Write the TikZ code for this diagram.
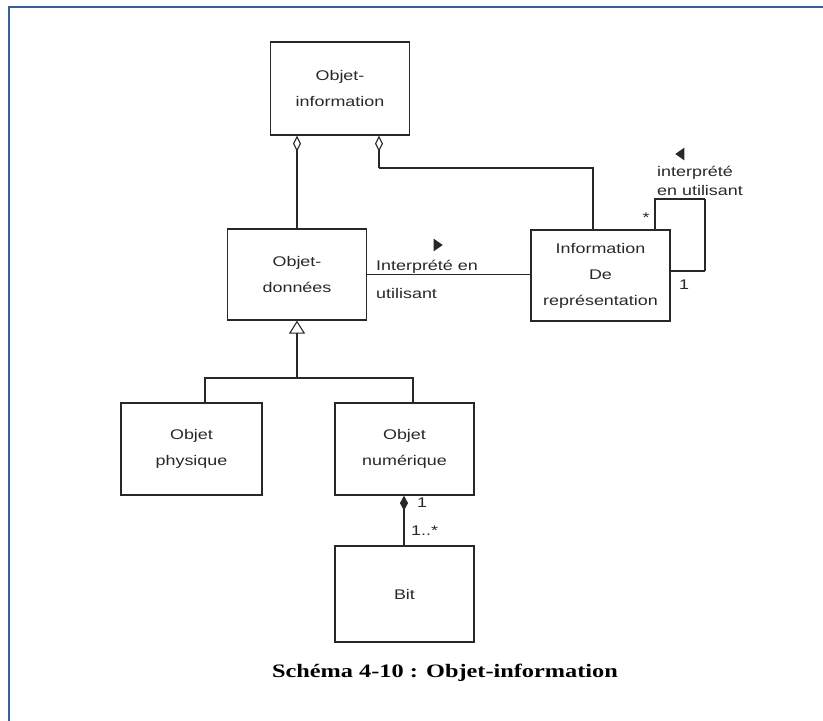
\documentclass[tikz,border=0pt]{standalone}
\usepackage{fontspec}
\usepackage{graphicx}
\setmainfont{Liberation Sans}
\newfontfamily\capfont{Liberation Serif}
\usetikzlibrary{arrows.meta,calc,shapes.geometric}
\newcommand\sx[1]{\scalebox{1.28}[1]{#1}}
\definecolor{ink}{RGB}{40,40,40}
\definecolor{frameblue}{RGB}{60,95,150}
\tikzset{
  box/.style={draw=ink, line width=1.2pt, minimum width=139pt, minimum height=92pt, inner sep=0pt, align=center, text=ink,
    font=\fontsize{14pt}{26pt}\selectfont},
  conn/.style={draw=ink, line width=1.1pt},
  thickconn/.style={draw=ink, line width=1.9pt},
  lbl/.style={inner sep=0pt, text=ink, font=\fontsize{14pt}{17pt}\selectfont},
  dirtri/.style={isosceles triangle, isosceles triangle apex angle=70, fill=ink, inner sep=0pt, minimum height=9pt, minimum width=11pt},
  agg/.style={conn, {Diamond[open,length=16pt,width=8pt,line width=1.1pt]}-},
  comp/.style={conn, {Diamond[length=15pt,width=8pt]}-},
  gen/.style={conn, -{Triangle[open,length=13pt,width=16pt,line width=1.1pt]}},
}
\begin{document}
\begin{tikzpicture}[x=1pt,y=-1pt]
\useasboundingbox (0,0) rectangle (823,721);
\draw[frameblue, line width=2.8pt] (9,721) -- (9,7) -- (823,7);

\node[box, minimum height=93pt] (oi) at (340,88.5) {\sx{Objet-}\\\sx{information}};
\node[box, minimum height=91pt] (od) at (297,274.5) {\sx{Objet-}\\\sx{données}};
\node[box, minimum height=91pt] (ir) at (600.5,275.5) {\sx{Information}\\\sx{De}\\\sx{représentation}};
\node[box, minimum width=141pt] (phys) at (191.5,449) {\sx{Objet}\\\sx{physique}};
\node[box] (num) at (404.5,449) {\sx{Objet}\\\sx{numérique}};
\node[box, minimum height=96pt] (bit) at (404.5,594) {\sx{Bit}};

% aggregations to Objet-information
\draw[agg] (od.north |- oi.south) -- (od.north);
\coordinate (k1) at (379,168);
\coordinate (k2) at (593,168);
\draw[thickconn] (k1) -- (k2) -- (k2 |- ir.north);
\draw[conn, line width=1.9pt, {Diamond[open,length=16pt,width=8pt,line width=1.1pt]}-] (k1 |- oi.south) -- (k1);

% association Objet-donnees -- Information
\draw[conn] (od.east) -- (od.east -| ir.west);
\node[lbl, anchor=west] (l1) at (376,267) {\sx{Interprété en}};
\node[lbl, anchor=west] (l2) at (376,293) {\sx{utilisant}};
\node[dirtri, shape border rotate=0] (t1) at (437,245) {};

% self association
\coordinate (s1) at (655,199);
\coordinate (s2) at (705,199);
\coordinate (s3) at (705,271);
\draw[conn] (s1 |- ir.north) -- (s1) -- (s2);
\draw[thickconn] (s2) -- (s3);
\draw[conn] (s3) -- (s3 -| ir.east);
\node[lbl, anchor=west] (l3) at (657,173) {\sx{interprété}};
\node[lbl, anchor=west] (l4) at (657,190) {\sx{en utilisant}};
\node[dirtri, shape border rotate=180] (t2) at (681,154) {};
\node[lbl] (m1) at (646,218) {\sx{*}};
\node[lbl] (m2) at (684,285) {\sx{1}};

% generalization
\coordinate (j) at (297,378);
\coordinate (pj) at (205,378);
\coordinate (nj) at (413,378);
\draw[gen] (j) -- (od.south);
\draw[conn] (pj |- phys.north) -- (pj) -- (nj) -- (nj |- num.north);

% composition
\coordinate (c) at (404,500);
\draw[comp] (c |- num.south) -- (c |- bit.north);
\node[lbl, anchor=west] (m3) at (417,503) {\sx{1}};
\node[lbl, anchor=west] (m4) at (411,531) {\sx{1..*}};

% caption
\node[inner sep=0pt, text=black, font=\capfont\bfseries\fontsize{19pt}{22pt}\selectfont] (cap) at (445,673) {\sx{Schéma 4-10 : Objet-information}};
\end{tikzpicture}
\end{document}
